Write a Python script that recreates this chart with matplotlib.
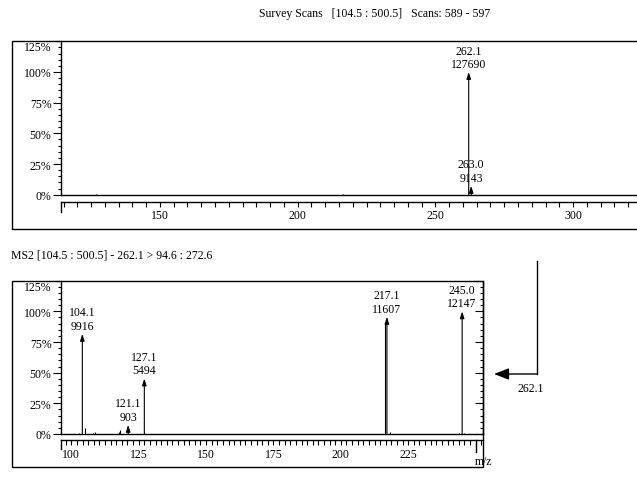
import matplotlib
matplotlib.use("Agg")
import matplotlib.pyplot as plt
from matplotlib.patches import Rectangle, FancyArrowPatch
from matplotlib.lines import Line2D
from matplotlib.ticker import MultipleLocator
from matplotlib.transforms import blended_transform_factory

plt.rcParams['font.family'] = ['Liberation Serif', 'DejaVu Serif']
plt.rcParams['font.size'] = 8.5

############################# survey scan
survey_title = "Survey Scans   [104.5 : 500.5]   Scans: 589 - 597"
survey_mz = [126.9, 216.3, 262.1, 263.0]
survey_int = [1000, 1000, 127690, 9143]
survey_labeled = [262.1, 263.0]

############################# MS2 scan
ms2_title = "MS2 [104.5 : 500.5] - 262.1 > 94.6 : 272.6"
precursor = 262.1
ms2_mz = [102.8, 104.1, 105.1, 108.0, 108.7, 117.6, 118.2, 121.1, 127.1,
          216.2, 217.1, 218.3, 243.9, 245.0, 245.6]
ms2_int = [100, 9916, 560, 100, 180, 150, 360, 903, 5494,
           11130, 11607, 240, 120, 12147, 120]
ms2_labeled = [104.1, 121.1, 127.1, 217.1, 245.0]

pct_ticks = [0, 25, 50, 75, 100, 125]
pct_labels = ["0%", "25%", "50%", "75%", "100%", "125%"]

W, H = 637, 489
def fx(px):
    return px / W
def fy(py):
    return 1 - py / H

fig = plt.figure(figsize=(W / 100, H / 100), dpi=100)


def spectrum(ax, mz, inten, labeled, xlim, xmajor, xminor, drop):
    base = max(inten)
    rel = [i / base * 100 for i in inten]
    for m, r, i in zip(mz, rel, inten):
        if m in labeled:
            ax.annotate("", xy=(m, r), xytext=(m, 0),
                        arrowprops=dict(arrowstyle="-|>,head_length=0.5,head_width=0.16",
                                        lw=0.8, color="black", shrinkA=0, shrinkB=0,
                                        mutation_scale=8))
            ax.annotate("%.1f\n%d" % (m, i), xy=(m, r), xytext=(0, 1.5),
                        textcoords="offset points", ha="center", va="bottom",
                        linespacing=1.15, annotation_clip=False)
        else:
            ax.vlines(m, 0, r, color="black", lw=0.8)
    ax.axhline(0, color="black", lw=1.0, clip_on=False)
    ax.set_xlim(*xlim)
    ax.set_ylim(0, 125)
    ax.set_yticks(pct_ticks)
    ax.set_yticklabels(pct_labels)
    ax.yaxis.set_minor_locator(MultipleLocator(5))
    ax.set_xticks(xmajor)
    ax.set_xticklabels([str(v) for v in xmajor])
    ax.xaxis.set_minor_locator(xminor)
    ax.tick_params(axis="y", which="major", direction="out", length=6, width=0.8, pad=0.5)
    ax.tick_params(axis="y", which="minor", direction="out", length=2, width=0.8)
    ax.tick_params(axis="x", which="both", direction="out", length=3.5, width=0.8, pad=2)
    ax.spines["top"].set_visible(False)
    ax.spines["bottom"].set_position(("outward", drop))
    for s in ax.spines.values():
        s.set_linewidth(1.0)
    ax.patch.set_alpha(0)
    ax.get_yticklabels()[-1].set_va("top")


def long_tick(ax, x, y0, y1):
    tr = blended_transform_factory(ax.transData, fig.transFigure)
    ax.plot([x, x], [fy(y0), fy(y1)], transform=tr, color="black", lw=1.0, clip_on=False)


# top panel
fig.add_artist(Rectangle((fx(11.5), fy(230)), fx(700) - fx(11.5), fy(42.3) - fy(230),
                         transform=fig.transFigure, fill=False, lw=1.0, ec="black"))
ax1 = fig.add_axes([fx(60.5), fy(195.7), fx(637) - fx(60.5), fy(42.3) - fy(195.7)])
spectrum(ax1, survey_mz, survey_int, survey_labeled, (113.9, 323.2),
         [150, 200, 250, 300], MultipleLocator(5), 5.0)
ax1.spines["right"].set_visible(False)
long_tick(ax1, 113.9, 202.7, 213)
fig.text(fx(375), fy(14), survey_title, ha="center", va="center")

# bottom panel
fig.add_artist(Rectangle((fx(11.5), fy(468.3)), fx(483.3) - fx(11.5), fy(281.7) - fy(468.3),
                         transform=fig.transFigure, fill=False, lw=1.0, ec="black"))
ax2 = fig.add_axes([fx(60.5), fy(435), fx(483.3) - fx(60.5), fy(281.7) - fy(435)])
spectrum(ax2, ms2_mz, ms2_int, ms2_labeled, (96.0, 252.85),
         [100, 125, 150, 175, 200, 225], MultipleLocator(25 / 12), 4.3)
ax2.tick_params(axis="y", which="both", right=True)
for t in ax2.yaxis.get_minor_ticks() + ax2.yaxis.get_major_ticks():
    t.tick2line.set_marker(0)
long_tick(ax2, 96.0, 441, 450)
long_tick(ax2, 250, 441, 453)
fig.text(fx(484), fy(461.7), "m/z", ha="center", va="center")
fig.text(fx(11), fy(255), ms2_title, ha="left", va="center")

# precursor arrow
fig.add_artist(Line2D([fx(537.3), fx(537.3)], [fy(261.7), fy(375)], color="black", lw=1.0))
fig.add_artist(FancyArrowPatch((fx(537.3), fy(375)), (fx(494), fy(375)),
                               transform=fig.transFigure,
                               arrowstyle="-|>,head_length=0.9,head_width=0.35",
                               mutation_scale=10, lw=1.0, color="black",
                               shrinkA=0, shrinkB=0))
fig.text(fx(530.7), fy(389.3), "%.1f" % precursor, ha="center", va="center")

fig.savefig("out.png", dpi=100)
